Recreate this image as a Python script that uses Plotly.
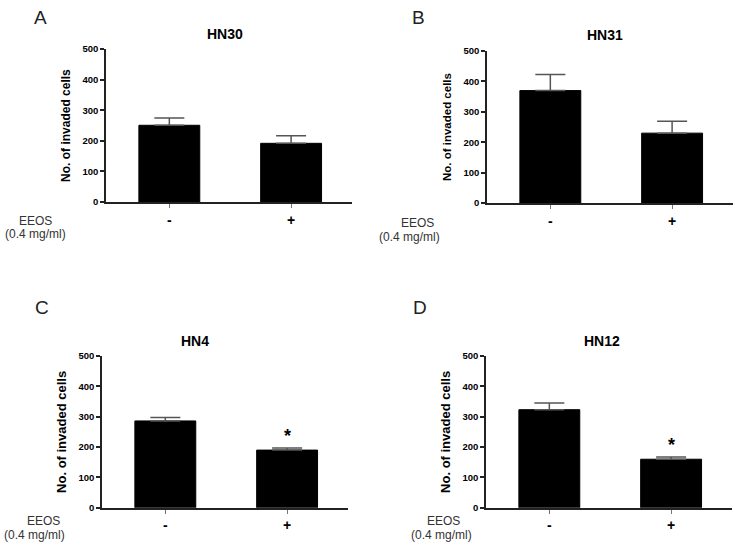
import plotly.graph_objects as go

conditions = ["-", "+"]
panel_letters = ["A", "B", "C", "D"]
cell_lines = ["HN30", "HN31", "HN4", "HN12"]
means = {
    "HN30": [251, 192],
    "HN31": [370, 230],
    "HN4": [286, 190],
    "HN12": [323, 160],
}
errors = {
    "HN30": [24, 25],
    "HN31": [53, 39],
    "HN4": [11, 7],
    "HN12": [22, 7],
}
significant = {
    "HN30": [False, False],
    "HN31": [False, False],
    "HN4": [False, True],
    "HN12": [False, True],
}
y_ticks = [0, 100, 200, 300, 400, 500]

W, H = 735, 554
FONT = "Liberation Sans, Arial, Helvetica, sans-serif"

# pixel layouts: (x_left, x_right, y_zero, y_500)
boxes = [
    (106, 352, 200, 44),
    (487, 733, 201, 46),
    (102, 348, 512, 357),
    (486, 732, 512, 357),
]
ytitle_size = [12, 11.5, 13, 13]
letter_pos = [(40, 12), (418, 12), (42, 308), (420, 308)]
title_pos = [(225, 29), (605, 30), (195, 342), (602, 342)]
eeos_pos = [(35, 219), (417, 221), (43, 525), (443, 525)]
conc_pos = [(35, 233), (410, 236), (34, 540), (441, 540)]

fig = go.Figure()

for i, name in enumerate(cell_lines):
    ax = "" if i == 0 else str(i + 1)
    xl, xr, y0, y5 = boxes[i]
    fig.add_trace(go.Bar(
        x=[0, 1], y=means[name],
        width=0.5,
        marker=dict(color="black", line=dict(color="black", width=1)),
        error_y=dict(type="data", symmetric=False, array=errors[name],
                     arrayminus=[0, 0], color="#555", thickness=1.5, width=15),
        xaxis="x" + ax, yaxis="y" + ax, showlegend=False,
    ))
    fig.layout["xaxis" + ax] = dict(
        domain=[xl / W, xr / W], range=[-0.52, 1.5],
        anchor="y" + ax, tickmode="array", tickvals=[0, 1], ticktext=conditions,
        showline=True, linecolor="#222", linewidth=1.5,
        ticks="outside", ticklen=4, tickwidth=1, tickcolor="#777",
        tickfont=dict(family=FONT, size=14, color="black", weight="bold"),
        showgrid=False, zeroline=False, fixedrange=True,
    )
    fig.layout["yaxis" + ax] = dict(
        domain=[1 - y0 / H, 1 - y5 / H], range=[0, 500],
        anchor="x" + ax, tickmode="array", tickvals=y_ticks,
        showline=True, linecolor="#222", linewidth=1.5,
        ticks="outside", ticklen=4, tickwidth=1.5, tickcolor="#222",
        tickfont=dict(family=FONT, size=9.5, color="black", weight="bold"),
        title=dict(text="No. of invaded cells",
                   font=dict(family=FONT, size=ytitle_size[i], color="black", weight="bold"),
                   standoff=9),
        showgrid=False, zeroline=False, fixedrange=True,
    )
    for j, sig in enumerate(significant[name]):
        if sig:
            fig.add_annotation(
                x=j, y=means[name][j] + errors[name][j], xref="x" + ax, yref="y" + ax,
                text="*", showarrow=False, yanchor="bottom", yshift=0,
                font=dict(family=FONT, size=18, color="black", weight="bold"),
            )
    lx, ly = letter_pos[i]
    fig.add_annotation(x=lx / W, y=1 - ly / H, xref="paper", yref="paper",
                       text=panel_letters[i], showarrow=False,
                       xanchor="center", yanchor="middle",
                       font=dict(family=FONT, size=19, color="#222"))
    tx, ty = title_pos[i]
    fig.add_annotation(x=tx / W, y=1 - ty / H, xref="paper", yref="paper",
                       text=name, showarrow=False,
                       xanchor="center", yanchor="middle",
                       font=dict(family=FONT, size=14, color="black", weight="bold"))
    ex, ey = eeos_pos[i]
    fig.add_annotation(x=ex / W, y=1 - ey / H, xref="paper", yref="paper",
                       text="EEOS", showarrow=False,
                       xanchor="center", yanchor="middle",
                       font=dict(family=FONT, size=12, color="#333"))
    cx, cy = conc_pos[i]
    fig.add_annotation(x=cx / W, y=1 - cy / H, xref="paper", yref="paper",
                       text="(0.4 mg/ml)", showarrow=False,
                       xanchor="center", yanchor="middle",
                       font=dict(family=FONT, size=12, color="#333"))

fig.update_layout(
    width=W, height=H,
    margin=dict(l=0, r=0, t=0, b=0),
    paper_bgcolor="white", plot_bgcolor="white",
    bargap=0.5,
)

fig.write_html("out.html", config={"displayModeBar": False},
               post_script="document.body.style.margin='0';")
